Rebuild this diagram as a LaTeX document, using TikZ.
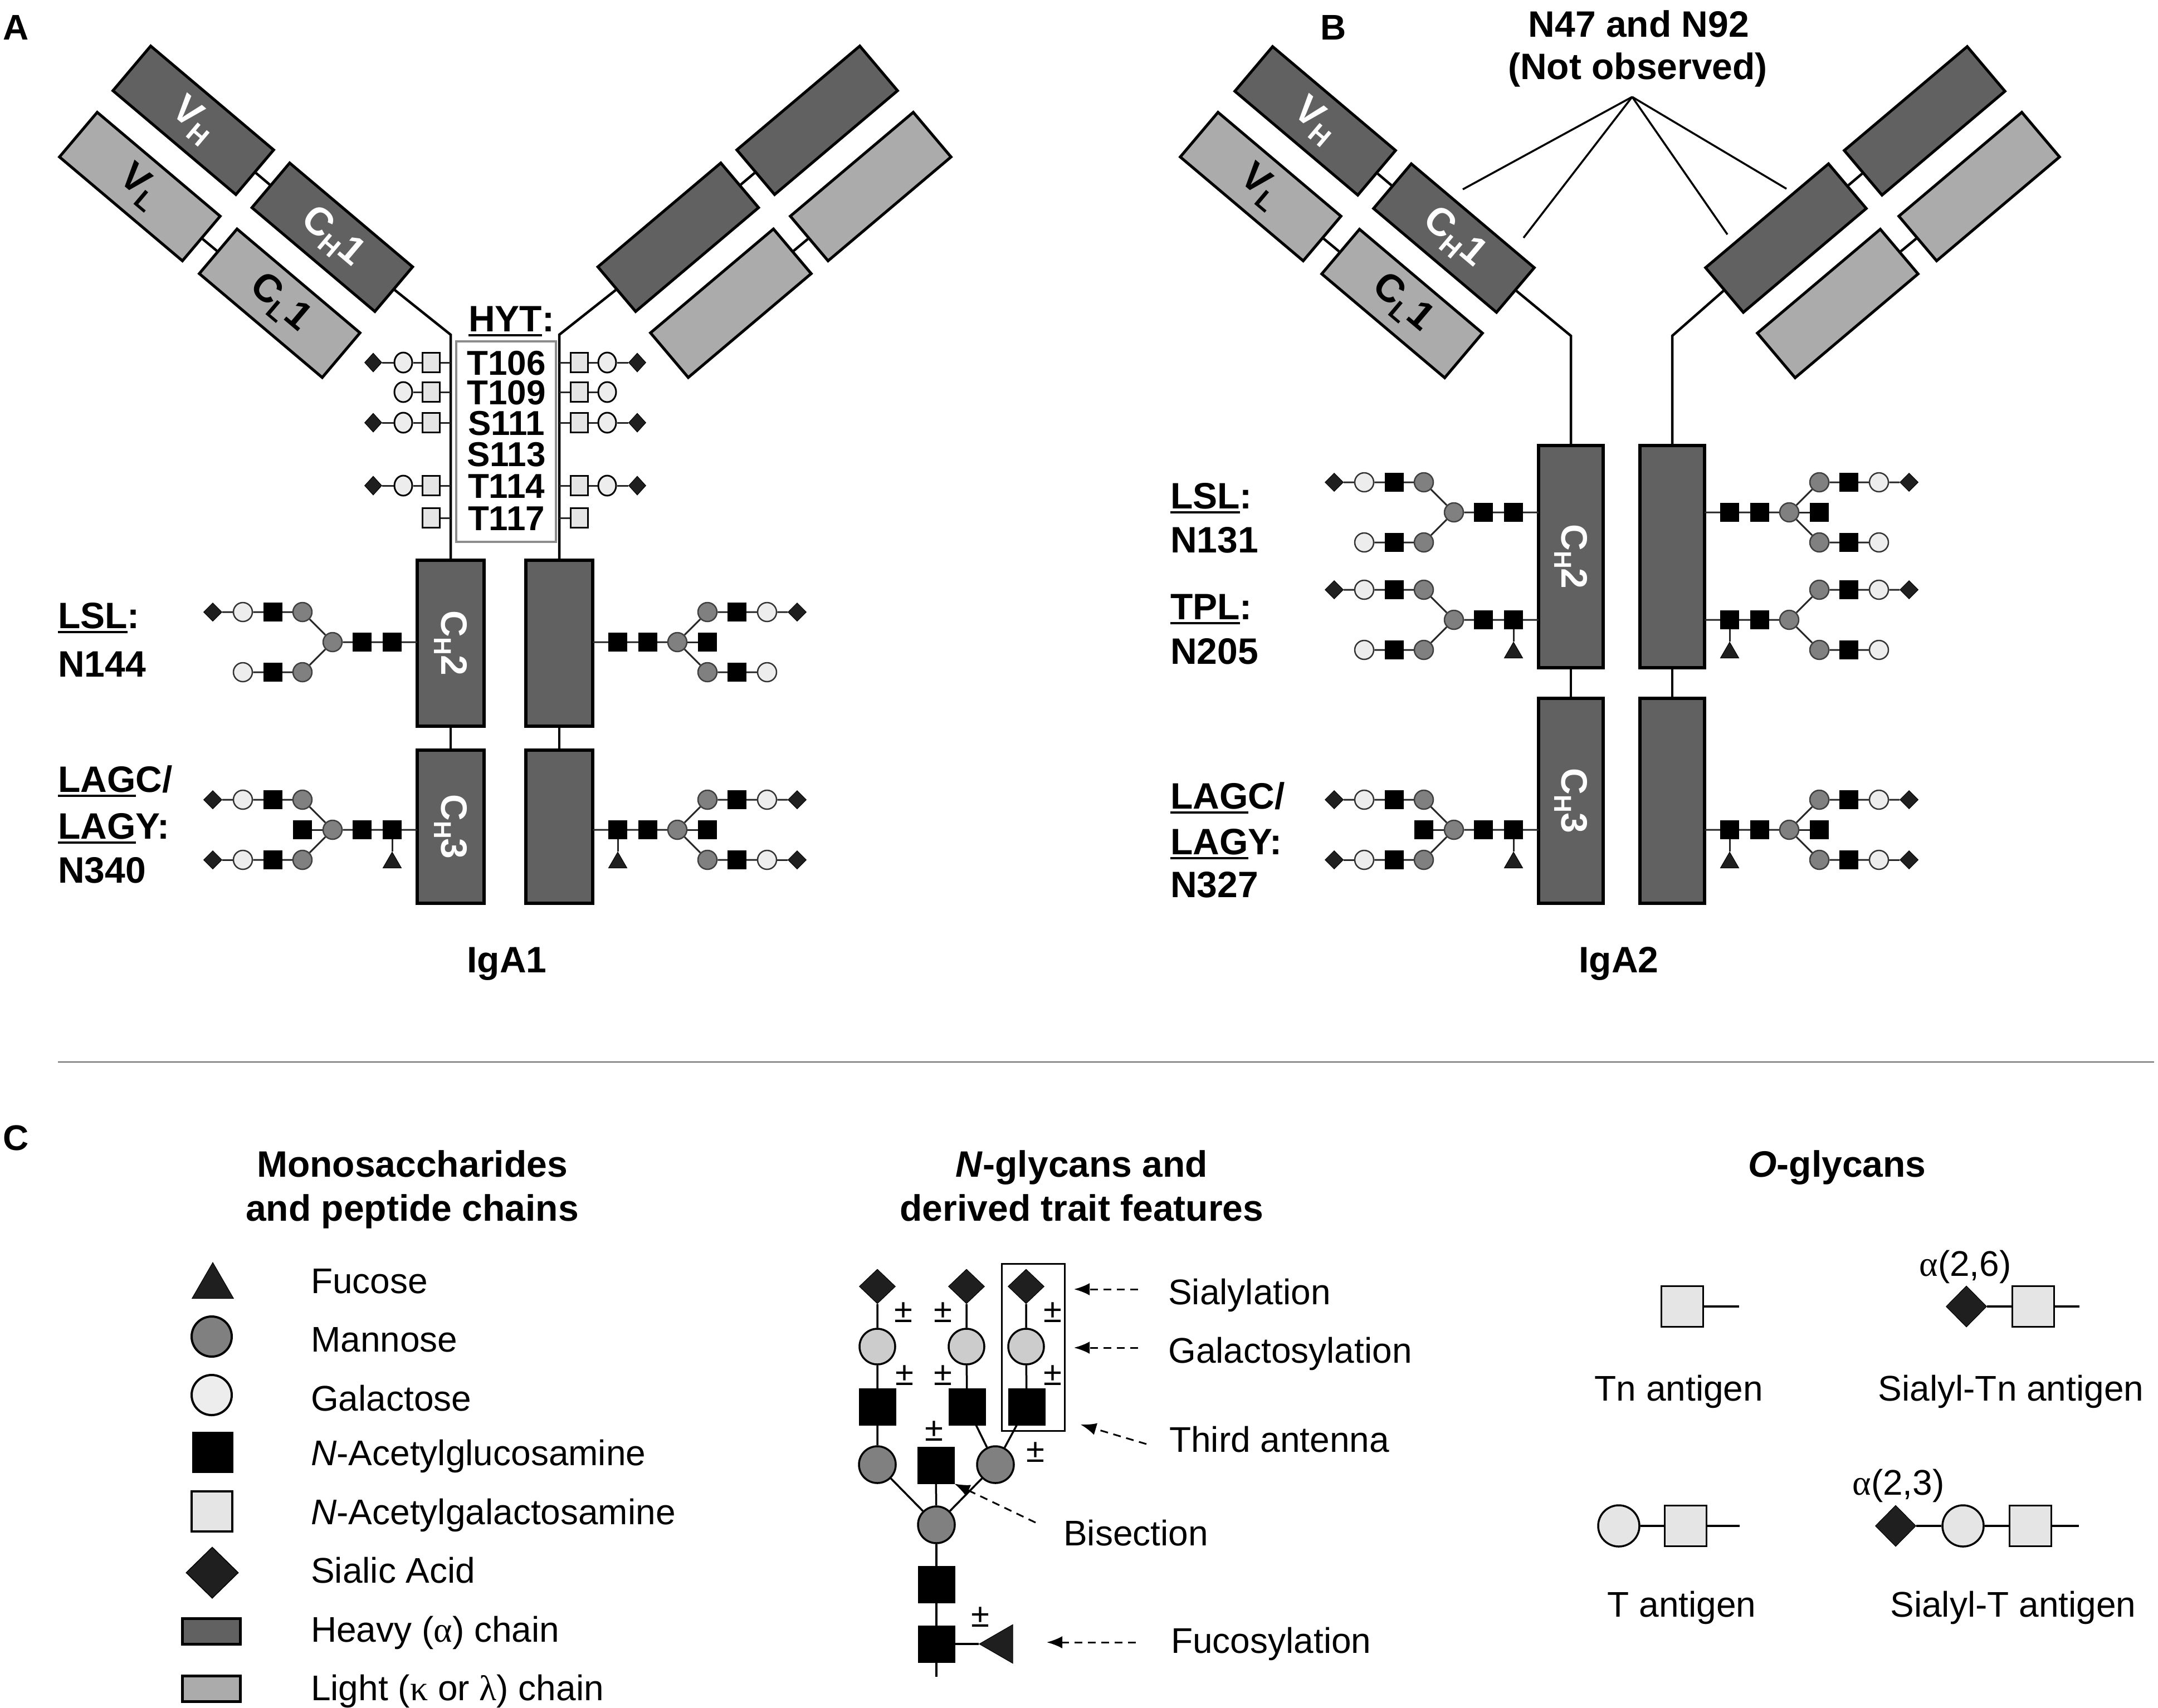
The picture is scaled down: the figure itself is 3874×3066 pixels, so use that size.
\documentclass[tikz,border=0pt]{standalone}
\usepackage{graphicx}
\usepackage{fontspec}
\setmainfont{Liberation Sans}
\newfontfamily\grk{Liberation Serif}
\usetikzlibrary{shapes.geometric,arrows.meta}

\definecolor{heavyc}{gray}{0.38}
\definecolor{lightc}{gray}{0.67}
\definecolor{manc}{gray}{0.50}
\definecolor{galc}{gray}{0.93}
\definecolor{gal2c}{gray}{0.80}
\definecolor{nacc}{gray}{0.90}
\definecolor{siac}{gray}{0.12}

\newcommand\fs[1]{\fontsize{#1}{#1}\selectfont}
\newcommand\uln[1]{\leavevmode\setbox0\hbox{#1}\rlap{\rule[-9pt]{\wd0}{4.5pt}}\box0}
\newcommand\sbs[1]{\raisebox{-0.2em}{\fs{44}#1}}
\newcommand\sbb[1]{\raisebox{-0.2em}{\fs{48}#1}}

\newcommand\glycan[7]{%
  \coordinate (#1e) at (#2,#3);
  \node[gnS]  (#1a)  at ({#2+(#4)*45},{#3}) {};
  \node[gnS]  (#1b)  at ({#2+(#4)*99},{#3}) {};
  \node[manS] (#1c)  at ({#2+(#4)*152},{#3}) {};
  \node[manS] (#1um) at ({#2+(#4)*206},{#3-54}) {};
  \node[gnS]  (#1ug) at ({#2+(#4)*259},{#3-54}) {};
  \node[galS] (#1ul) at ({#2+(#4)*313},{#3-54}) {};
  \node[siaS] (#1us) at ({#2+(#4)*367},{#3-54}) {};
  \node[manS] (#1lm) at ({#2+(#4)*206},{#3+54}) {};
  \node[gnS]  (#1lg) at ({#2+(#4)*259},{#3+54}) {};
  \node[galS] (#1ll) at ({#2+(#4)*313},{#3+54}) {};
  \draw[lnk] (#1e) -- (#1a) -- (#1b) -- (#1c) -- (#1um) -- (#1ug) -- (#1ul) -- (#1us);
  \draw[lnk] (#1c) -- (#1lm) -- (#1lg) -- (#1ll);
  \ifnum#5=1
    \node[gnS] (#1x) at ({#2+(#4)*206},{#3}) {};
    \draw[lnk] (#1c) -- (#1x);
  \fi
  \ifnum#6=1
    \node[fucS] (#1f) at ({#2+(#4)*45},{#3+59}) {};
    \draw[lnk] (#1a) -- (#1f);
  \fi
  \ifnum#7=1
    \node[siaS] (#1ls) at ({#2+(#4)*367},{#3+54}) {};
    \draw[lnk] (#1ll) -- (#1ls);
  \fi
}

\newcommand\orow[3]{%
  \ifnum#3>0
    \coordinate (#1Ls) at (809,#2);
    \coordinate (#1Rs) at (1004,#2);
    \node[nacS] (#1La) at (774,#2) {};
    \node[nacS] (#1Ra) at (1040,#2) {};
    \draw[lnk] (#1Ls) -- (#1La);
    \draw[lnk] (#1Rs) -- (#1Ra);
  \fi
  \ifnum#3>1
    \node[ogS] (#1Lb) at (724,#2) {};
    \node[ogS] (#1Rb) at (1090,#2) {};
    \draw[lnk] (#1La) -- (#1Lb);
    \draw[lnk] (#1Ra) -- (#1Rb);
  \fi
  \ifnum#3>2
    \node[osS] (#1Lc) at (670,#2) {};
    \node[osS] (#1Rc) at (1144,#2) {};
    \draw[lnk] (#1Lb) -- (#1Lc);
    \draw[lnk] (#1Rb) -- (#1Rc);
  \fi
}

\begin{document}
\begin{tikzpicture}[x=1pt,y=-1pt,
  hv/.style={draw=black, line width=5pt, fill=heavyc, inner sep=0, minimum width=289pt, minimum height=105pt, font=\fs{70}\bfseries, text=white},
  lt/.style={hv, fill=lightc, text=black},
  dom/.style={draw=black, line width=6pt, fill=heavyc, inner sep=0, font=\fs{66}\bfseries, text=white},
  stm/.style={line width=4.5pt},
  lnk/.style={line width=3pt, draw=black!85},
  manS/.style={circle, draw=black!75, line width=2.5pt, fill=manc, minimum size=34pt, inner sep=0},
  galS/.style={circle, draw=black!80, line width=2.5pt, fill=galc, minimum size=34pt, inner sep=0},
  gnS/.style={rectangle, fill=black, draw=black, line width=1pt, minimum size=33pt, inner sep=0},
  siaS/.style={diamond, fill=siac, draw=black, line width=1pt, minimum size=33pt, inner sep=0},
  fucS/.style={regular polygon, regular polygon sides=3, fill=siac, draw=black, line width=1pt, minimum size=38pt, inner sep=0},
  nacS/.style={rectangle, draw=black, line width=3pt, fill=nacc, minimum width=31pt, minimum height=35pt, inner sep=0},
  ogS/.style={ellipse, draw=black, line width=3pt, fill=galc, minimum width=32pt, minimum height=36pt, inner sep=0},
  osS/.style={diamond, draw=black, fill=siac, minimum width=31pt, minimum height=34pt, inner sep=0, line width=1pt},
  tB/.style={font=\fs{66}\bfseries, inner sep=0},
  tR/.style={font=\fs{64}, inner sep=0},
  pl/.style={anchor=base west, font=\fs{64}\bfseries, inner sep=0},
  Llnk/.style={line width=3.5pt},
  Lman/.style={circle, draw=black, line width=3.5pt, fill=manc, minimum size=66pt, inner sep=0},
  Lgal/.style={circle, draw=black, line width=3.5pt, fill=gal2c, minimum size=64pt, inner sep=0},
  Lgn/.style={rectangle, draw=black, fill=black, minimum size=66pt, inner sep=0},
  Lsia/.style={diamond, draw=black, fill=siac, line width=1pt, minimum width=65pt, minimum height=62pt, inner sep=0},
  Lfuc/.style={regular polygon, regular polygon sides=3, draw=black, fill=siac, line width=1pt, minimum size=84pt, inner sep=0},
  darr/.style={line width=3pt, dash pattern=on 14pt off 10pt, -{Latex[length=28pt,width=22pt]}},
  Onac/.style={rectangle, draw=black, line width=3.5pt, fill=nacc, minimum width=75pt, minimum height=73pt, inner sep=0},
  Ogal/.style={circle, draw=black, line width=3.5pt, fill=nacc, minimum size=74pt, inner sep=0},
  Osia/.style={diamond, draw=black, line width=1pt, fill=siac, minimum width=73pt, minimum height=74pt, inner sep=0},
  Olnk/.style={line width=4pt},
]
\useasboundingbox (0,0) rectangle (3874,3066);
\fill[white] (0,0) rectangle (3874,3066);

% panel letters
\node[pl] (labA) at (5,71) {A};
\node[pl] (labB) at (2370,71) {B};
\node[pl] (labC) at (5,2065) {C};

% ================= Panel A =================
\node[hv, rotate=-40.2] (aVH) at (347,216) {V\sbb{H}};
\node[lt, rotate=-40.2] (aVL) at (251,335) {V\sbb{L}};
\node[hv, rotate=-40.2] (aCH) at (596.5,426) {C\sbb{H}1};
\node[lt, rotate=-40.2] (aCL) at (502,544.5) {C\sbb{L}1};
\node[hv, rotate=40.2] (aVHr) at (1467,216) {};
\node[lt, rotate=40.2] (aVLr) at (1563,335) {};
\node[hv, rotate=40.2] (aCHr) at (1217.5,426) {};
\node[lt, rotate=40.2] (aCLr) at (1312,544.5) {};
\draw[stm] (aVH) -- (aCH);
\draw[stm] (aVL) -- (aCL);
\draw[stm] (aVHr) -- (aCHr);
\draw[stm] (aVLr) -- (aCLr);

\node[dom, minimum width=120pt, minimum height=298pt] (aC2L) at (809,1155) {\rotatebox{-90}{C\sbs{H}2}};
\node[dom, minimum width=120pt, minimum height=275pt] (aC3L) at (809,1484.5) {\rotatebox{-90}{C\sbs{H}3}};
\node[dom, minimum width=120pt, minimum height=298pt] (aC2R) at (1004,1155) {};
\node[dom, minimum width=120pt, minimum height=275pt] (aC3R) at (1004,1484.5) {};

\coordinate (aBL) at (809,601);
\coordinate (aBR) at (1004,601);
\draw[stm] (aCH.east) -- (aBL) -- (aC2L.north);
\draw[stm] (aCHr.west) -- (aBR) -- (aC2R.north);
\draw[stm] (aC2L) -- (aC3L);
\draw[stm] (aC2R) -- (aC3R);

\node[draw=black!45, line width=4pt, minimum width=179pt, minimum height=360pt, inner sep=0] (hytbox) at (908.5,793) {};
\node[tB, anchor=base] (hyt) at (918,595) {\uln{HYT}:};
\node[font=\fs{62}\bfseries, inner sep=0, anchor=base] (st1) at (909,673) {T106};
\node[font=\fs{62}\bfseries, inner sep=0, anchor=base] (st2) at (909,726) {T109};
\node[font=\fs{62}\bfseries, inner sep=0, anchor=base] (st3) at (909,781) {S111};
\node[font=\fs{62}\bfseries, inner sep=0, anchor=base] (st4) at (909,837) {S113};
\node[font=\fs{62}\bfseries, inner sep=0, anchor=base] (st5) at (909,894) {T114};
\node[font=\fs{62}\bfseries, inner sep=0, anchor=base] (st6) at (909,952) {T117};

\orow{oa}{651}{3}
\orow{ob}{704}{2}
\orow{oc}{759}{3}
\orow{od}{872}{3}
\orow{oe}{930}{1}

\glycan{aLt}{749}{1153}{-1}{0}{0}{0}
\glycan{aRt}{1064}{1153}{1}{1}{0}{0}
\glycan{aLu}{749}{1490}{-1}{1}{1}{1}
\glycan{aRu}{1064}{1490}{1}{1}{1}{1}

\node[tB, anchor=base west] (aLSL) at (104,1128) {\uln{LSL}:};
\node[tB, anchor=base west] (aN144) at (104,1215) {N144};
\node[tB, anchor=base west] (aLAGC) at (104,1422) {\uln{LAG}C/};
\node[tB, anchor=base west] (aLAGY) at (104,1506) {\uln{LAG}Y:};
\node[tB, anchor=base west] (aN340) at (104,1585) {N340};
\node[tB, anchor=base] (iga1) at (910,1746) {IgA1};

% ================= Panel B =================
\node[hv, rotate=-40.2] (bVH) at (2361,217) {V\sbb{H}};
\node[lt, rotate=-40.2] (bVL) at (2263,335) {V\sbb{L}};
\node[hv, rotate=-40.2] (bCH) at (2610,427.5) {C\sbb{H}1};
\node[lt, rotate=-40.2] (bCL) at (2517,545) {C\sbb{L}1};
\node[hv, rotate=40.2] (bVHr) at (3455,217) {};
\node[lt, rotate=40.2] (bVLr) at (3553,335) {};
\node[hv, rotate=40.2] (bCHr) at (3206,427.5) {};
\node[lt, rotate=40.2] (bCLr) at (3299,545) {};
\draw[stm] (bVH) -- (bCH);
\draw[stm] (bVL) -- (bCL);
\draw[stm] (bVHr) -- (bCHr);
\draw[stm] (bVLr) -- (bCLr);

\node[dom, minimum width=116pt, minimum height=399pt] (bC2L) at (2820,999.5) {\rotatebox{-90}{C\sbs{H}2}};
\node[dom, minimum width=116pt, minimum height=368pt] (bC3L) at (2820,1438) {\rotatebox{-90}{C\sbs{H}3}};
\node[dom, minimum width=116pt, minimum height=399pt] (bC2R) at (3002,999.5) {};
\node[dom, minimum width=116pt, minimum height=368pt] (bC3R) at (3002,1438) {};

\coordinate (bBL) at (2820,603);
\coordinate (bBR) at (3002,603);
\draw[stm] (bCH.east) -- (bBL) -- (bC2L.north);
\draw[stm] (bCHr.west) -- (bBR) -- (bC2R.north);
\draw[stm] (bC2L) -- (bC3L);
\draw[stm] (bC2R) -- (bC3R);

\node[tB, anchor=base] (nobs1) at (2942,66) {N47 and N92};
\node[tB, anchor=base] (nobs2) at (2940,142) {(Not observed)};
\coordinate (apex) at (2930,174);
\coordinate (ne1) at (2626,340);
\coordinate (ne2) at (2735,427);
\coordinate (ne3) at (3101,421);
\coordinate (ne4) at (3207,339);
\draw[line width=3.5pt] (apex) -- (ne1);
\draw[line width=3.5pt] (apex) -- (ne2);
\draw[line width=3.5pt] (apex) -- (ne3);
\draw[line width=3.5pt] (apex) -- (ne4);

\glycan{bLt}{2762}{920}{-1}{0}{0}{0}
\glycan{bRt}{3060}{920}{1}{1}{0}{0}
\glycan{bLu}{2762}{1113}{-1}{0}{1}{0}
\glycan{bRu}{3060}{1113}{1}{0}{1}{0}
\glycan{bLv}{2762}{1490}{-1}{1}{1}{1}
\glycan{bRv}{3060}{1490}{1}{1}{1}{1}

\node[tB, anchor=base west] (bLSL) at (2101,913) {\uln{LSL}:};
\node[tB, anchor=base west] (bN131) at (2101,992) {N131};
\node[tB, anchor=base west] (bTPL) at (2101,1112) {\uln{TPL}:};
\node[tB, anchor=base west] (bN205) at (2101,1192) {N205};
\node[tB, anchor=base west] (bLAGC) at (2101,1452) {\uln{LAG}C/};
\node[tB, anchor=base west] (bLAGY) at (2101,1534) {\uln{LAG}Y:};
\node[tB, anchor=base west] (bN327) at (2101,1611) {N327};
\node[tB, anchor=base] (iga2) at (2906,1746) {IgA2};

% separator
\draw[line width=2.5pt, black!60] (104,1907) -- (3867,1907);

% ================= Panel C: legend =================
\node[tB, anchor=base] (h1a) at (740,2113) {Monosaccharides};
\node[tB, anchor=base] (h1b) at (740,2192) {and peptide chains};
\node[Lfuc, minimum size=86pt] (kfuc) at (382,2310) {};
\node[circle, draw=black, line width=4pt, fill=manc, minimum size=72pt, inner sep=0] (kman) at (380,2400) {};
\node[circle, draw=black, line width=4pt, fill=galc, minimum size=72pt, inner sep=0] (kgal) at (380,2505) {};
\node[rectangle, draw=black, fill=black, minimum size=73pt, inner sep=0] (kgn) at (382,2608) {};
\node[rectangle, draw=black, line width=4pt, fill=nacc, minimum width=73pt, minimum height=72pt, inner sep=0] (knac) at (380,2714) {};
\node[diamond, draw=black, line width=1.5pt, fill=siac, minimum width=94pt, minimum height=92pt, inner sep=0] (ksia) at (381,2824) {};
\node[rectangle, draw=black, line width=5pt, fill=heavyc, minimum width=104pt, minimum height=46pt, inner sep=0] (khv) at (379,2929) {};
\node[rectangle, draw=black, line width=5pt, fill=lightc, minimum width=104pt, minimum height=46pt, inner sep=0] (klt) at (379,3032) {};
\node[tR, anchor=base west] (kt1) at (558,2322) {Fucose};
\node[tR, anchor=base west] (kt2) at (558,2427) {Mannose};
\node[tR, anchor=base west] (kt3) at (558,2533) {Galactose};
\node[tR, anchor=base west] (kt4) at (558,2631) {\textit{N}-Acetylglucosamine};
\node[tR, anchor=base west] (kt5) at (558,2737) {\textit{N}-Acetylgalactosamine};
\node[tR, anchor=base west] (kt6) at (558,2842) {Sialic Acid};
\node[tR, anchor=base west] (kt7) at (558,2948) {Heavy ({\grk α}) chain};
\node[tR, anchor=base west] (kt8) at (558,3053) {Light ({\grk κ} or {\grk λ}) chain};

% ================= Panel C: N-glycans =================
\node[tB, anchor=base] (h2a) at (1942,2113) {\textit{N}-glycans and};
\node[tB, anchor=base] (h2b) at (1942,2192) {derived trait features};

\node[Lsia] (ns1) at (1575,2310) {};
\node[Lsia] (ns2) at (1735,2310) {};
\node[Lsia] (ns3) at (1842,2310) {};
\node[Lgal] (ng1) at (1575,2418) {};
\node[Lgal] (ng2) at (1735,2418) {};
\node[Lgal] (ng3) at (1842,2418) {};
\node[Lgn] (nn1) at (1575,2526) {};
\node[Lgn] (nn2) at (1736,2526) {};
\node[Lgn] (nn3) at (1843,2526) {};
\node[Lman] (nm1) at (1575,2630) {};
\node[Lman] (nm2) at (1787,2630) {};
\node[Lgn] (nbis) at (1680,2631) {};
\node[Lman] (ncore) at (1681,2738) {};
\node[Lgn] (nr1) at (1681,2845) {};
\node[Lgn] (nr2) at (1681,2952) {};
\node[Lfuc, rotate=90, minimum size=80pt] (nfuc) at (1798,2952) {};
\coordinate (nend) at (1681,3011);
\draw[Llnk] (ns1) -- (ng1) -- (nn1) -- (nm1) -- (ncore);
\draw[Llnk] (ns2) -- (ng2) -- (nn2) -- (nm2) -- (ncore);
\draw[Llnk] (ns3) -- (ng3) -- (nn3) -- (nm2);
\draw[Llnk] (nbis) -- (ncore);
\draw[Llnk] (ncore) -- (nr1) -- (nr2) -- (nend);
\draw[Llnk] (nr2) -- (nfuc);
\node[draw=black, line width=3pt, minimum width=113pt, minimum height=300pt, inner sep=0] (nbox) at (1854.5,2419) {};

\node[font=\fs{60}, inner sep=0] (pm1) at (1622,2357) {±};
\node[font=\fs{60}, inner sep=0] (pm2) at (1693,2357) {±};
\node[font=\fs{60}, inner sep=0] (pm3) at (1890,2357) {±};
\node[font=\fs{60}, inner sep=0] (pm4) at (1624,2470) {±};
\node[font=\fs{60}, inner sep=0] (pm5) at (1693,2470) {±};
\node[font=\fs{60}, inner sep=0] (pm6) at (1890,2470) {±};
\node[font=\fs{60}, inner sep=0] (pm7) at (1677,2570) {±};
\node[font=\fs{60}, inner sep=0] (pm8) at (1859,2608) {±};
\node[font=\fs{60}, inner sep=0] (pm9) at (1760,2904) {±};

\node[tR, anchor=base west] (tSia) at (2097,2342) {Sialylation};
\node[tR, anchor=base west] (tGal) at (2097,2447) {Galactosylation};
\node[tR, anchor=base west] (tTri) at (2099,2607) {Third antenna};
\node[tR, anchor=base west] (tBis) at (1909,2775) {Bisection};
\node[tR, anchor=base west] (tFuc) at (2102,2968) {Fucosylation};
\coordinate (aS0) at (2043,2315); \coordinate (aS1) at (1928,2315);
\coordinate (aG0) at (2043,2420); \coordinate (aG1) at (1928,2420);
\coordinate (aT0) at (2058,2593); \coordinate (aT1) at (1940,2558);
\coordinate (aB0) at (1859,2734);
\coordinate (aF0) at (2039,2949); \coordinate (aF1) at (1879,2949);
\draw[darr] (aS0) -- (aS1);
\draw[darr] (aG0) -- (aG1);
\draw[darr] (aT0) -- (aT1);
\draw[darr] (aB0) -- (nbis.south east);
\draw[darr] (aF0) -- (aF1);

% ================= Panel C: O-glycans =================
\node[tB, anchor=base] (h3) at (3298,2113) {\textit{O}-glycans};
\node[Onac] (tnA) at (3020,2346) {};
\coordinate (tnE) at (3122,2346);
\draw[Olnk] (tnA) -- (tnE);
\node[Osia] (stnS) at (3530,2346) {};
\node[Onac] (stnA) at (3650,2346) {};
\coordinate (stnE) at (3733,2346);
\draw[Olnk] (stnS) -- (stnA) -- (stnE);
\node[Ogal] (tG) at (2906,2740) {};
\node[Onac] (tA) at (3026,2740) {};
\coordinate (tE) at (3123,2740);
\draw[Olnk] (tG) -- (tA) -- (tE);
\node[Osia] (stS) at (3403,2740) {};
\node[Ogal] (stG) at (3524,2740) {};
\node[Onac] (stA) at (3645,2740) {};
\coordinate (stE) at (3732,2740);
\draw[Olnk] (stS) -- (stG) -- (stA) -- (stE);
\node[tR, anchor=base] (a26) at (3528,2291) {{\grk α}(2,6)};
\node[tR, anchor=base] (a23) at (3408,2684) {{\grk α}(2,3)};
\node[tR, anchor=base] (ltn) at (3014,2515) {Tn antigen};
\node[tR, anchor=base] (lstn) at (3610,2515) {Sialyl-Tn antigen};
\node[tR, anchor=base] (lt) at (3019,2903) {T antigen};
\node[tR, anchor=base] (lst) at (3614,2903) {Sialyl-T antigen};
\end{tikzpicture}
\end{document}
